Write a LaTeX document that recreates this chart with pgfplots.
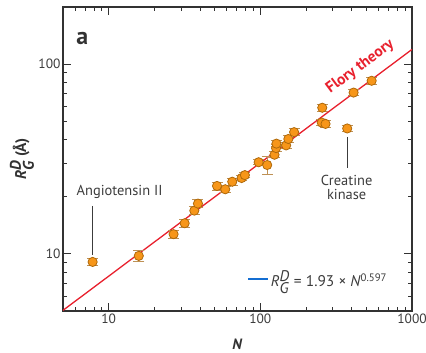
\documentclass[border=0pt]{standalone}
\usepackage{fontspec}
\setmainfont{PT Sans}
\usepackage{pgfplots}
\pgfplotsset{compat=1.18}
\usepackage{pgfplotstable}
\usetikzlibrary{calc}
\definecolor{markfill}{RGB}{247,150,25}
\definecolor{markedge}{RGB}{175,105,10}
\definecolor{errcol}{RGB}{190,145,85}
\definecolor{flory}{RGB}{232,32,45}
\definecolor{legblue}{RGB}{20,110,210}
\definecolor{axgray}{RGB}{50,50,50}
\definecolor{txtgray}{RGB}{60,60,60}

\pgfplotstableread{
N R err
7.84 9.07 0.40
15.8 9.76 0.60
26.8 12.7 0.60
31.7 14.5 0.70
36.7 16.9 0.80
38.8 18.4 0.90
51.8 22.8 1.10
58.7 21.9 0.80
65.3 24.0 1.00
75.3 25.1 0.80
79.1 26.0 0.80
97.5 30.4 1.00
111 29.4 3.20
124 33.3 1.20
127 36.1 1.50
127.7 38.1 1.50
148 37.3 1.30
153 40.3 1.50
167 43.8 2.00
256 58.9 2.50
254 49.2 2.00
269 48.4 2.00
374 45.8 1.80
412 70.8 2.50
542 81.7 3.50
}\datatab

\pgfplotstableread{
N R
5 5.04
1000 119.5
}\florytab

\begin{document}
\begin{tikzpicture}
\begin{axis}[
  scale only axis,
  width=349bp, height=304bp,
  xmode=log, ymode=log,
  xmin=5, xmax=1000, ymin=5, ymax=200,
  xtick={10,100,1000}, xticklabels={10,100,1000},
  ytick={10,100}, yticklabels={10,100},
  minor xtick={5,6,7,8,9,20,30,40,50,60,70,80,90,200,300,400,500,600,700,800,900},
  minor ytick={6,7,8,9,20,30,40,50,60,70,80,90,200},
  tick align=inside,
  xtick pos=both, ytick pos=both,
  xticklabel pos=lower, yticklabel pos=left,
  major tick length=8bp, minor tick length=4.5bp,
  every tick/.style={axgray, line width=0.9bp},
  axis line style={axgray, line width=1.1bp},
  /pgf/number format/assume math mode=true,
  ticklabel style={font=\fontsize{13.5}{15}\selectfont, text=txtgray},
  xticklabel style={yshift=1bp},
  yticklabel style={xshift=1bp},
  xlabel={\textbf{\textit{N}}},
  ylabel={\textbf{\textit{R}$^{\textit{D}}_{\textit{G}}$ (Å)}},
  xlabel style={at={(rel axis cs:0.5,0)}, anchor=center, yshift=-33bp, font=\fontsize{15}{17}\selectfont, text=axgray},
  ylabel style={at={(rel axis cs:0,0.5)}, anchor=center, yshift=41bp, font=\fontsize{15.5}{17}\selectfont, text=axgray},
  legend style={at={(rel axis cs:0.935,0.105)}, anchor=east, draw=none, fill=none, font=\fontsize{15.5}{17}\selectfont, text=txtgray, inner sep=0pt},
  legend cell align=left,
  legend image code/.code={\draw[#1] (0bp,0bp) -- (20bp,0bp);},
]
\coordinate (ll) at (rel axis cs:0,0);
\coordinate (ur) at (rel axis cs:1,1);

\addplot[flory, line width=1.3bp, forget plot] table[x=N, y=R] {\florytab};

\addplot[only marks, mark=*, mark size=4.6bp, forget plot,
  mark options={fill=markfill, draw=markedge, line width=0.8bp},
  error bars/.cd, y dir=both, y explicit,
  error bar style={errcol, line width=1bp},
  error mark options={rotate=90, mark size=5.5bp, errcol, line width=1bp}]
  table[x=N, y=R, y error=err] {\datatab};

\addlegendimage{legblue, line width=1.2bp}
\addlegendentry{\textit{R}$^{\textit{D}}_{\textit{G}}$ = 1.93 × \textit{N}\textsuperscript{0.597}}

\node[font=\fontsize{24}{26}\selectfont\bfseries, text=axgray] at (rel axis cs:0.055,0.898) {a};
\node[font=\fontsize{15.5}{17}\selectfont\bfseries, text=flory, rotate=36.7] at (axis cs:455,97) {Flory theory};
\node[font=\fontsize{14.5}{16}\selectfont, text=txtgray] at (axis cs:11.8,21.2) {Angiotensin II};
\draw[txtgray, line width=0.8bp] (axis cs:7.84,17.9) -- (axis cs:7.84,9.88);
\node[font=\fontsize{14.5}{16}\selectfont, text=txtgray, align=center, inner sep=0pt] at (axis cs:371,22.5) {Creatine\\[-2pt]kinase};
\draw[txtgray, line width=0.8bp] (axis cs:374,41.4) -- (axis cs:374,28.4);
\end{axis}
\pgfresetboundingbox
\path ($(ll)+(-63bp,-42bp)$) rectangle ($(ur)+(14bp,7bp)$);
\end{tikzpicture}
\end{document}
